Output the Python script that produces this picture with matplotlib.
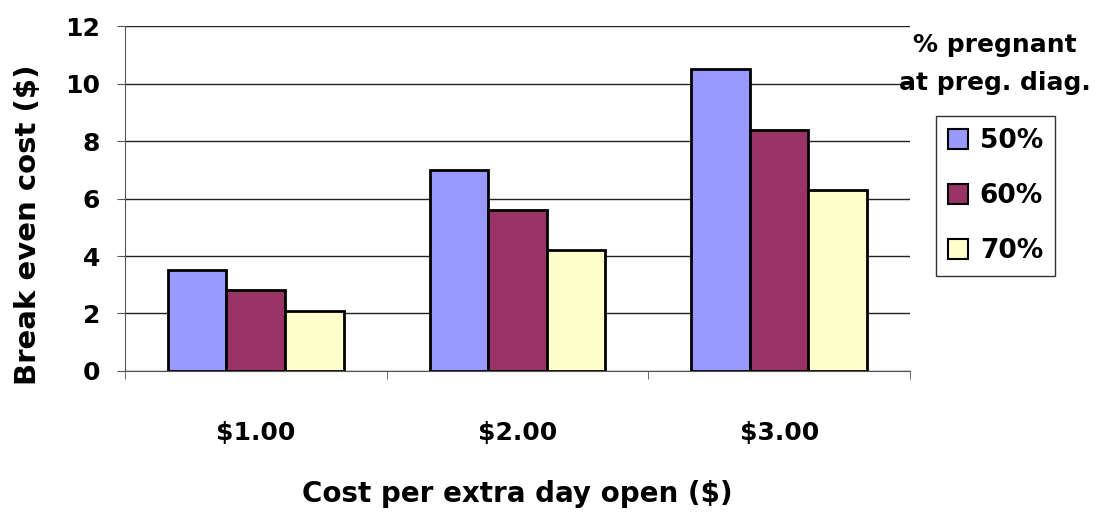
import numpy as np
from matplotlib import pyplot as plt
from matplotlib.patches import Patch

categories = ["$1.00", "$2.00", "$3.00"]
series_names = ["50%", "60%", "70%"]
values_50 = [3.5, 7.0, 10.5]
values_60 = [2.8, 5.6, 8.4]
values_70 = [2.1, 4.2, 6.3]
y_ticks = [0, 2, 4, 6, 8, 10, 12]

colors = ["#9999FF", "#993366", "#FFFFCC"]

plt.rcParams["font.family"] = ["DejaVu Sans"]
plt.rcParams["font.weight"] = "bold"

fig = plt.figure(figsize=(10.99, 5.12), dpi=100)
ax = fig.add_axes([0.1137, 0.2754, 0.7143, 0.6738])

x = np.arange(len(categories))
width = 0.224
for i, (vals, color) in enumerate(zip([values_50, values_60, values_70], colors)):
    ax.bar(x + (i - 1) * width, vals, width, color=color, edgecolor="black",
           linewidth=2, zorder=3)

ax.set_xlim(-0.5, len(categories) - 0.5)
ax.set_ylim(0, 12)
ax.set_yticks(y_ticks)
ax.set_yticklabels([str(t) for t in y_ticks], fontsize=18, fontweight="bold")
ax.yaxis.grid(True, color="#222222", linewidth=1, zorder=0)

ax.set_xticks(x)
ax.set_xticklabels(categories, fontsize=18, fontweight="bold")
ax.tick_params(axis="x", which="major", length=0, pad=36)
ax.set_xticks(np.arange(len(categories) + 1) - 0.5, minor=True)
ax.tick_params(axis="x", which="minor", length=6, color="#555555", direction="out")
ax.tick_params(axis="y", length=6, color="#555555", direction="out", pad=12)

for side in ["top", "right"]:
    ax.spines[side].set_visible(False)
ax.spines["left"].set_color("#555555")
ax.spines["bottom"].set_color("#555555")

ax.set_xlabel("Cost per extra day open ($)", fontsize=20, fontweight="bold", labelpad=25)
ax.set_ylabel("Break even cost ($)", fontsize=21, fontweight="bold")
ax.yaxis.set_label_coords(-0.106, 0.423)

fig.text(0.905, 0.912, "% pregnant", ha="center", va="center", fontsize=18,
         fontweight="bold")
fig.text(0.905, 0.838, "at preg. diag.", ha="center", va="center", fontsize=18,
         fontweight="bold")

handles = [Patch(facecolor=c, edgecolor="black", linewidth=1.5) for c in colors]
leg = fig.legend(handles, series_names, loc="upper left",
                 bbox_to_anchor=(0.8517, 0.7734), borderaxespad=0, fontsize=19,
                 frameon=True, fancybox=False, edgecolor="black",
                 handlelength=0.78, handleheight=0.78, handletextpad=0.43,
                 labelspacing=1.1, borderpad=0.45)
leg.get_frame().set_linewidth(1)

fig.savefig("out.png", dpi=100)
plt.close("all")
